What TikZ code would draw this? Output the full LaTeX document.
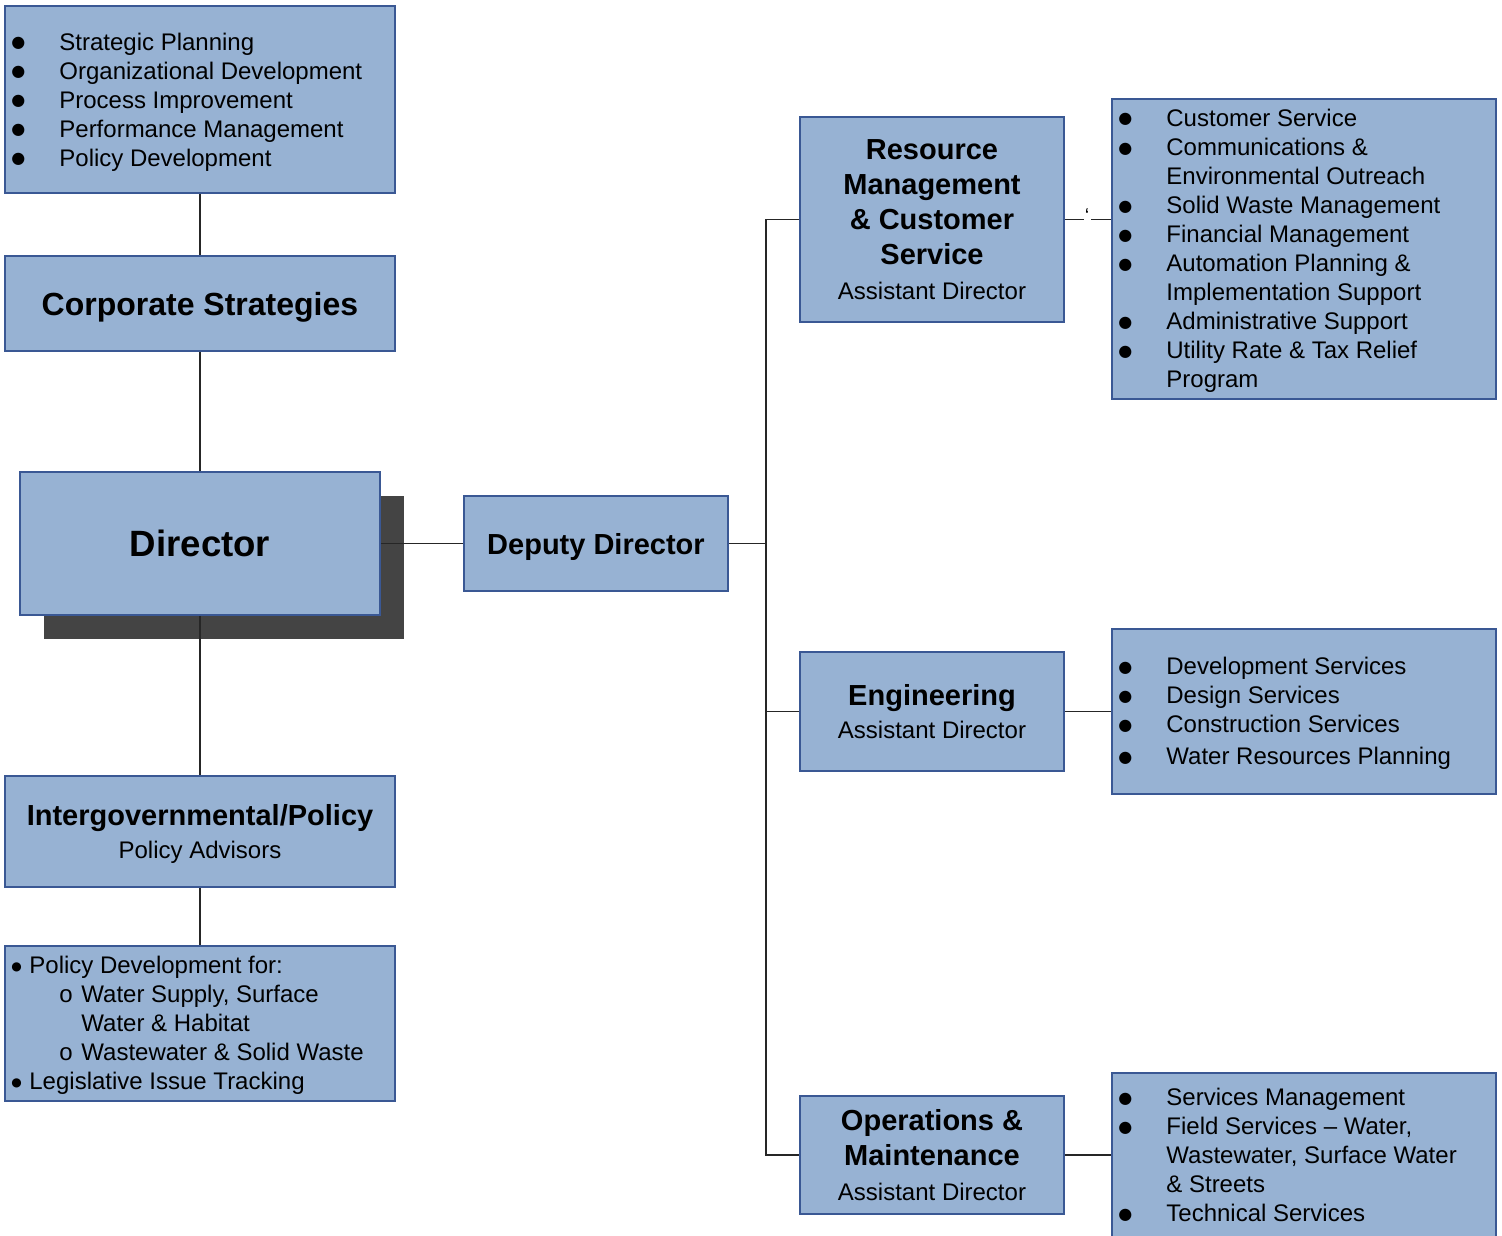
\documentclass[tikz,border=0pt]{standalone}
\usepackage{fontspec}
\setmainfont{Liberation Sans}
\newfontfamily\symfont{DejaVu Sans}
\definecolor{boxfill}{RGB}{151,178,211}
\definecolor{boxline}{RGB}{58,88,148}
\definecolor{shadowgray}{RGB}{68,68,68}

% list helpers
\newlength{\bulletw}\setlength{\bulletw}{24pt}
\newcommand{\bigdot}{\raisebox{1.2pt}{\symfont\fontsize{8}{8}\selectfont ●}}
\newcommand{\meddot}{\raisebox{1.4pt}{\symfont\fontsize{6}{6}\selectfont ●}}
\newcommand{\itm}[1]{\rule{0pt}{10pt}\makebox[\bulletw][l]{\bigdot}#1}
\newcommand{\cont}[1]{\rule{0pt}{10pt}\hspace*{\bulletw}#1}
\newcommand{\smallitm}[1]{\rule{0pt}{10pt}\makebox[9pt][l]{\meddot}#1}
\newcommand{\subitm}[1]{\rule{0pt}{10pt}\makebox[35pt][l]{\hspace*{24pt}o}#1}
\newcommand{\subcont}[1]{\rule{0pt}{10pt}\hspace*{35pt}#1}

\begin{document}
\begin{tikzpicture}[
  x=0.5pt, y=-0.5pt,
  box/.style={draw=boxline, fill=boxfill, line width=0.8pt, inner sep=0pt, align=center},
  title/.style={font=\fontsize{14.5}{17.5}\selectfont\bfseries},
  list/.style={inner sep=0pt, anchor=north west, align=left, font=\fontsize{12}{14.5}\selectfont},
  link/.style={draw=black!85, line width=0.6pt},
]
\useasboundingbox (0,0) rectangle (1502,1235);

% left column
\node[box, minimum width=195pt, minimum height=93.5pt] (tl) at (200,99.5) {};
\node[list] (tltext) at (11,30) {%
  \itm{Strategic Planning}\\
  \itm{Organizational Development}\\
  \itm{Process Improvement}\\
  \itm{Performance Management}\\
  \itm{Policy Development}};

\node[box, minimum width=195pt, minimum height=47.5pt, text depth=0pt,
      font=\fontsize{16}{19}\selectfont\bfseries] (cs) at (200,303.5) {Corporate Strategies};

\fill[shadowgray] (44,496) rectangle (404,639);
\node[box, minimum width=180pt, minimum height=71.5pt,
      font=\fontsize{18.3}{21}\selectfont\bfseries] (dir) at (200,543.5) {Director};

\node[box, minimum width=195pt, minimum height=55.5pt, text depth=0pt,
      font=\fontsize{14.5}{16.5}\selectfont\bfseries] (ig) at (200,831.5)
  {Intergovernmental/Policy\\{\mdseries\fontsize{12}{14.5}\selectfont Policy Advisors}};

\node[box, minimum width=195pt, minimum height=77.5pt] (pol) at (200,1023.5) {};
\node[list] (poltext) at (11,953) {%
  \smallitm{Policy Development for:}\\
  \subitm{Water Supply, Surface}\\
  \subcont{Water \& Habitat}\\
  \subitm{Wastewater \& Solid Waste}\\
  \smallitm{Legislative Issue Tracking}};

% deputy
\node[box, title, minimum width=132pt, minimum height=47.5pt, text depth=0pt] (dep) at (596,543.5) {Deputy Director};

% assistant directors
\node[box, title, minimum width=132pt, minimum height=102.5pt] (rm) at (932,219.5)
  {Resource\\Management\\\& Customer\\Service\\{\mdseries\fontsize{12}{14.5}\selectfont Assistant Director}};
\node[box, minimum width=132pt, minimum height=59.5pt,
      font=\fontsize{14.5}{16.5}\selectfont\bfseries] (eng) at (932,711.5)
  {Engineering\\{\mdseries\fontsize{12}{14.5}\selectfont Assistant Director}};
\node[box, title, minimum width=132pt, minimum height=59pt] (om) at (932,1155)
  {Operations \&\\Maintenance\\{\mdseries\fontsize{12}{14.5}\selectfont Assistant Director}};

% responsibilities
\node[box, minimum width=192pt, minimum height=150pt] (rmb) at (1304,249) {};
\node[list] (rmtext) at (1118,106) {%
  \itm{Customer Service}\\
  \itm{Communications \&}\\
  \cont{Environmental Outreach}\\
  \itm{Solid Waste Management}\\
  \itm{Financial Management}\\
  \itm{Automation Planning \&}\\
  \cont{Implementation Support}\\
  \itm{Administrative Support}\\
  \itm{Utility Rate \& Tax Relief}\\
  \cont{Program}};

\node[box, minimum width=192pt, minimum height=82.5pt] (engb) at (1304,711.5) {};
\node[list] (engtext) at (1118,654) {%
  \itm{Development Services}\\
  \itm{Design Services}\\
  \itm{Construction Services}\\[1.5pt]
  \itm{Water Resources Planning}};

\node[box, minimum width=192pt, minimum height=93.5pt] (omb) at (1304,1166.5) {};
\node[list] (omtext) at (1118,1085) {%
  \itm{Services Management}\\
  \itm{Field Services -- Water,}\\
  \cont{Wastewater, Surface Water}\\
  \cont{\& Streets}\\
  \itm{Technical Services}};

% connectors
\draw[link] (tl.south) -- (cs.north);
\draw[link] (cs.south) -- (dir.north);
\draw[link] (dir.south) -- (ig.north);
\draw[link] (ig.south) -- (pol.north);
\draw[link] (dir.east) -- (dep.west);

\coordinate (bus) at (766,543.5);
\draw[link] (dep.east) -- (bus);
\draw[link] (rm.west) -- (rm.west -| bus) |- (om.west);
\draw[link] (eng.west) -- (eng.west -| bus);

\coordinate (gapL) at (1084,219.5);
\coordinate (gapR) at (1091,219.5);
\draw[link] (rm.east) -- (gapL);
\draw[link] (gapR) -- (rm.east -| rmb.west);
\node[inner sep=0pt, font=\fontsize{10}{10}\selectfont] (tick) at (1087,216) {\char96};
\draw[link] (eng.east) -- (engb.west);
\draw[link] (om.east) -- (om.east -| omb.west);
\end{tikzpicture}
\end{document}
